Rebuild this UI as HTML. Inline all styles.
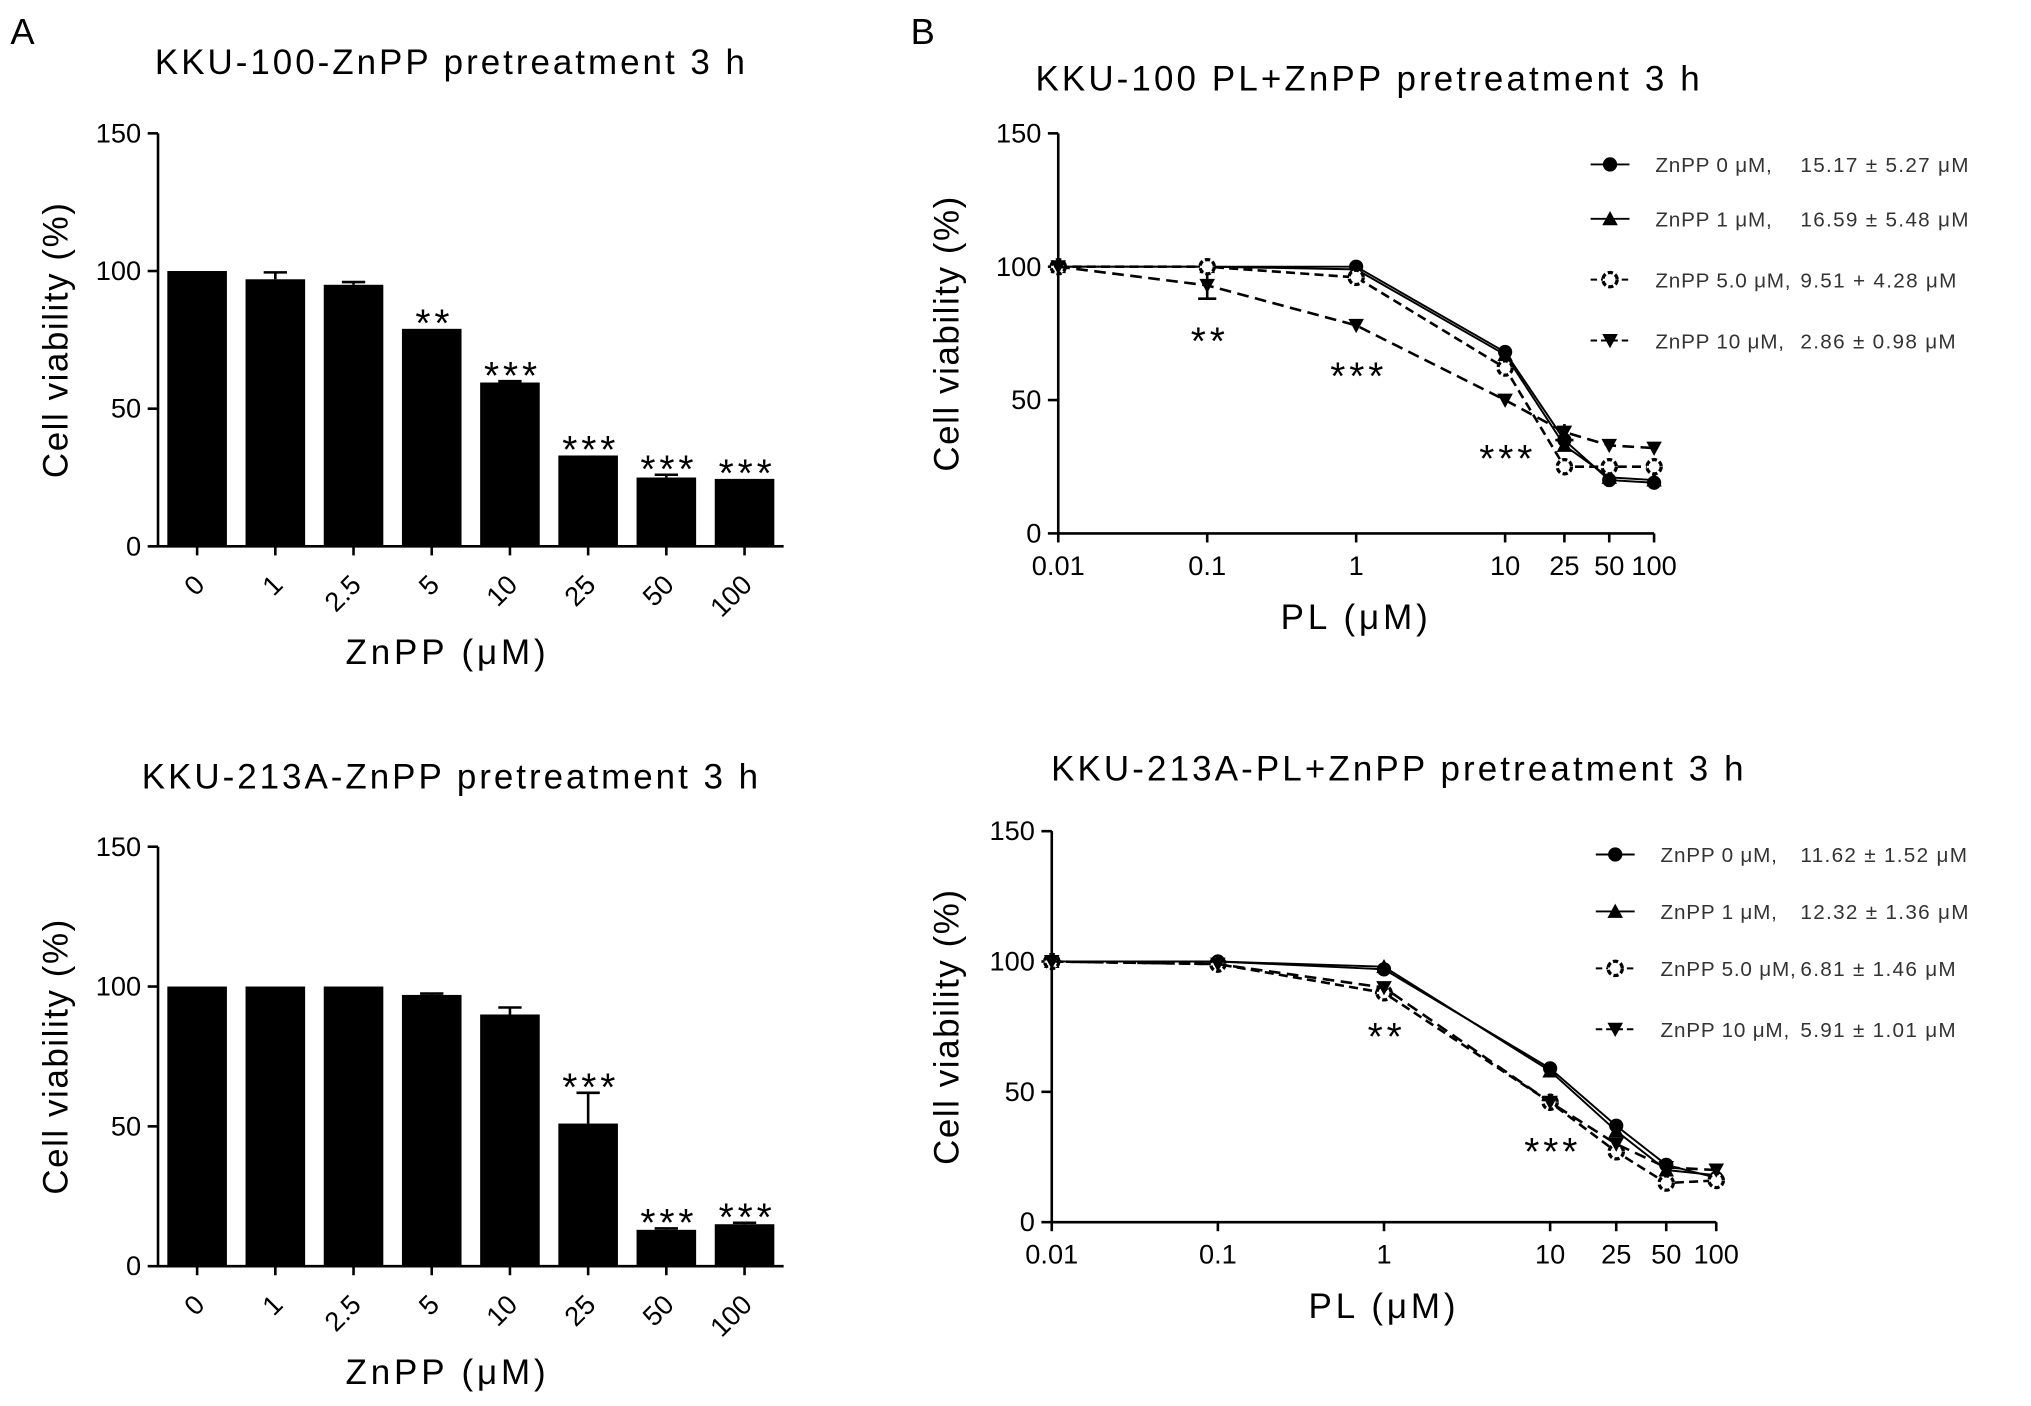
<!DOCTYPE html>
<html><head><meta charset="utf-8"><style>
html,body{margin:0;padding:0;background:#fff}
svg{display:block;font-family:"Liberation Sans",Arial,sans-serif}
</style></head><body>
<svg id="fig" width="2031" height="1406" viewBox="0 0 1568 1086" preserveAspectRatio="none" xmlns="http://www.w3.org/2000/svg">
<text x="8" y="34" font-size="28">A</text>
<text x="703" y="34" font-size="28">B</text>
</svg>
<script>
const NS='http://www.w3.org/2000/svg';
const svg=document.getElementById('fig');
function el(t,a,p){const e=document.createElementNS(NS,t);for(const k in a)e.setAttribute(k,a[k]);(p||svg).appendChild(e);return e;}
function txt(x,y,s,size,anchor,extra){const e=el('text',Object.assign({x:x,y:y,'font-size':size,'text-anchor':anchor||'middle'},extra||{}));e.textContent=s;return e;}

// ---- Bar chart data ----
const barCats=['0','1','2.5','5','10','25','50','100'];
const barTop=[100,97,95,79,59.5,33,25,24.5];
const barTopErr=[0,2.5,1,0,0.5,0,1,0];
const barTopSig=['','','','**','***','***','***','***'];
const barBot=[100,100,100,97,90,51,13,15];
const barBotErr=[0,0,0,0.5,2.5,11,0.5,0.5];
const barBotSig=['','','','','','***','***','***'];
const yTicks=[0,50,100,150];

function barChart(o,vals,errs,sigs,title,name){
  const g=el('g',{});
  
  
  const y=v=>o.y0-(v/150)*(o.y0-o.y150);
  const step=(o.x1-o.x0)/barCats.length;
  const xc=i=>o.x0+step*(i+0.5);
  el('line',{x1:o.x0,y1:o.y150,x2:o.x0,y2:o.y0,stroke:'#000','stroke-width':2},g);
  el('line',{x1:o.x0,y1:o.y0,x2:o.x1,y2:o.y0,stroke:'#000','stroke-width':2},g);
  yTicks.forEach(t=>{el('line',{x1:o.x0-8,y1:y(t),x2:o.x0,y2:y(t),stroke:'#000','stroke-width':2},g);
    const l=txt(o.x0-13,y(t)+7,String(t),21,'end');g.appendChild(l);});
  vals.forEach((v,i)=>{
    const b=el('rect',{x:xc(i)-23,y:y(v),width:46,height:o.y0-y(v),fill:'#000'},g);
    
    
    if(errs[i]>0){el('line',{x1:xc(i),y1:y(v),x2:xc(i),y2:y(v+errs[i]),stroke:'#000','stroke-width':2},g);
      el('line',{x1:xc(i)-9,y1:y(v+errs[i]),x2:xc(i)+9,y2:y(v+errs[i]),stroke:'#000','stroke-width':2},g);}
    if(sigs[i]){const s=txt(xc(i)+2,y(v+errs[i])+6,sigs[i],30,'middle',{'letter-spacing':3});g.appendChild(s);}
    el('line',{x1:xc(i),y1:o.y0,x2:xc(i),y2:o.y0+7,stroke:'#000','stroke-width':2},g);
    const tl=txt(xc(i)+7,o.y0+31,barCats[i],21,'end',{transform:`rotate(-45 ${xc(i)+7} ${o.y0+31})`});
    g.appendChild(tl);
  });
  const t=txt((o.x0+o.x1)/2-15,o.ty,title,27,'middle',{'letter-spacing':2.3});g.appendChild(t);
  const xl=txt((o.x0+o.x1)/2-18,o.y0+91,'ZnPP (μM)',27,'middle',{'letter-spacing':3});g.appendChild(xl);
  const ym=(o.y0+o.y150)/2;
  const yl=txt(52,ym,'Cell viability (%)',27,'middle',{'letter-spacing':1.2,transform:`rotate(-90 52 ${ym})`});g.appendChild(yl);
}
barChart({x0:122,x1:605,y0:422,y150:103,ty:57},barTop,barTopErr,barTopSig,'KKU-100-ZnPP pretreatment 3 h','bar-chart-kku100');
barChart({x0:122,x1:605,y0:978,y150:654,ty:609},barBot,barBotErr,barBotSig,'KKU-213A-ZnPP pretreatment 3 h','bar-chart-kku213a');

// ---- Line chart data ----
const plDoses=[0.01,0.1,1,10,25,50,100];
const plTickLabels=['0.01','0.1','1','10','25','50','100'];
const seriesNames=['ZnPP 0 μM,','ZnPP 1 μM,','ZnPP 5.0 μM,','ZnPP 10 μM,'];
const top0=[100,100,100,68,35,20,19];
const top1=[100,100,99,67,33,21,20];
const top5=[100,100,96,62,25,25,25];
const top10=[100,93,78,50,38,33,32];
const top10Err=[0,5,0,0,3,0,0];
const topIC=['15.17 ± 5.27 μM','16.59 ± 5.48 μM','9.51 + 4.28 μM','2.86 ± 0.98 μM'];
const bot0=[100,100,97,59,37,22,17];
const bot1=[100,100,98,58,35,20,18];
const bot5=[100,99,88,46,27,15,16];
const bot10=[100,99,90,46,30,21,20];
const bot10Err=[0,0,2,0,0,0,0];
const botIC=['11.62 ± 1.52 μM','12.32 ± 1.36 μM','6.81 ± 1.46 μM','5.91 ± 1.01 μM'];

function marker(g,type,x,y){
  if(type===0)el('circle',{cx:x,cy:y,r:5.5,fill:'#000'},g);
  else if(type===1)el('polygon',{points:`${x},${y-6} ${x-6},${y+5} ${x+6},${y+5}`,fill:'#000'},g);
  else if(type===2)el('circle',{cx:x,cy:y,r:5.5,fill:'#fff',stroke:'#000','stroke-width':2.5,'stroke-dasharray':'4 2'},g);
  else el('polygon',{points:`${x-6},${y-5} ${x+6},${y-5} ${x},${y+6}`,fill:'#000'},g);
}
const dashes=['none','none','7 4','9 5'];
function lineChart(o,series,err,ics,sigs,title,name){
  const g=el('g',{});
  
  
  const dec=(o.x1-o.x0)/4;
  const x=d=>o.x0+(Math.log10(d)+2)*dec;
  const y=v=>o.y0-(v/150)*(o.y0-o.y150);
  el('line',{x1:o.x0,y1:o.y150,x2:o.x0,y2:o.y0,stroke:'#000','stroke-width':2},g);
  el('line',{x1:o.x0,y1:o.y0,x2:o.x1,y2:o.y0,stroke:'#000','stroke-width':2},g);
  yTicks.forEach(t=>{el('line',{x1:o.x0-8,y1:y(t),x2:o.x0,y2:y(t),stroke:'#000','stroke-width':2},g);
    const l=txt(o.x0-13,y(t)+7,String(t),21,'end');g.appendChild(l);});
  plDoses.forEach((d,i)=>{el('line',{x1:x(d),y1:o.y0,x2:x(d),y2:o.y0+7,stroke:'#000','stroke-width':2},g);
    const l=txt(x(d),o.y0+32,plTickLabels[i],21);g.appendChild(l);});
  const s3=series[3];
  err.forEach((e,i)=>{if(e>0){const xx=x(plDoses[i]);
    el('line',{x1:xx,y1:y(s3[i]-e),x2:xx,y2:y(s3[i]+e),stroke:'#000','stroke-width':2},g);
    el('line',{x1:xx-7,y1:y(s3[i]-e),x2:xx+7,y2:y(s3[i]-e),stroke:'#000','stroke-width':2},g);}});
  series.forEach((s,k)=>{
    const p=el('polyline',{points:s.map((v,i)=>x(plDoses[i])+','+y(v)).join(' '),fill:'none',stroke:'#000','stroke-width':k>=2?2:1.5,'stroke-dasharray':dashes[k]},g);
    
    
    s.forEach((v,i)=>marker(g,k,x(plDoses[i]),y(v)));
    const ly=o.ly[k];
    const lg=el('g',{},g);
    
    
    el('line',{x1:o.lx,y1:ly,x2:o.lx+30,y2:ly,stroke:'#000','stroke-width':1.5,'stroke-dasharray':k>=2?'5 3':'none'},lg);
    marker(lg,k,o.lx+15,ly);
    const a=txt(o.lx+50,ly+6,seriesNames[k],16,'start',{fill:'#333','letter-spacing':0.6});lg.appendChild(a);
    const b=txt(o.lx+o.icx,ly+6,ics[k],16,'start',{fill:'#333','letter-spacing':1});lg.appendChild(b);
  });
  sigs.forEach(s=>{const t=txt(x(plDoses[s.i])+2,y(s.v),s.t,30,'middle',{'letter-spacing':3});g.appendChild(t);});
  const t=txt(o.tx,o.ty,title,27,'middle',{'letter-spacing':2.4});g.appendChild(t);
  const xl=txt(x(1),o.y0+74,'PL (μM)',27,'middle',{'letter-spacing':3});g.appendChild(xl);
  const ym=(o.y0+o.y150)/2;
  const yl=txt(740,ym,'Cell viability (%)',27,'middle',{'letter-spacing':1.2,transform:`rotate(-90 740 ${ym})`});g.appendChild(yl);
}
lineChart({x0:817,x1:1277,y0:412,y150:103,lx:1228,icx:162,ly:[127,169,216,263],tx:1057,ty:70},[top0,top1,top5,top10],top10Err,topIC,
  [{i:1,v:67,t:'**'},{i:2,v:54,t:'***'},{i:3,v:23,t:'***'}],'KKU-100 PL+ZnPP pretreatment 3 h','line-chart-kku100');
lineChart({x0:812,x1:1325,y0:944,y150:642,lx:1232,icx:158,ly:[660,704,748,795],tx:1080,ty:603},[bot0,bot1,bot5,bot10],bot10Err,botIC,
  [{i:2,v:66,t:'**'},{i:3,v:22,t:'***'}],'KKU-213A-PL+ZnPP pretreatment 3 h','line-chart-kku213a');
</script>
</body></html>
